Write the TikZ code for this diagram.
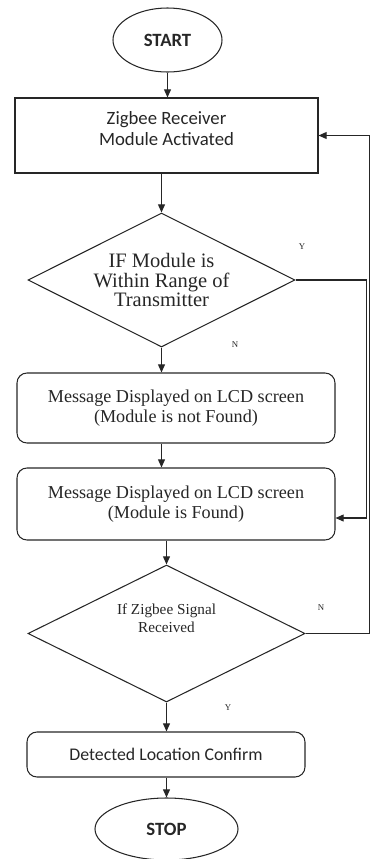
\documentclass[tikz,border=0pt]{standalone}
\usepackage{fontspec}
\setmainfont{Liberation Serif}
\newfontfamily\calibri{Carlito}
\usetikzlibrary{shapes.geometric,arrows.meta}
\begin{document}
\begin{tikzpicture}[x=0.03cm,y=-0.03cm,line width=0.9pt,black!85,
    arr/.style={-{Triangle[length=7pt,width=6pt]}},
    term/.style={draw,ellipse,inner sep=0pt,font=\calibri\bfseries\fontsize{16}{18}\selectfont},
    procbox/.style={draw,rectangle,align=center,inner sep=0pt},
    roundbox/.style={procbox,rounded corners=0.3cm},
    decide/.style={draw,diamond,aspect=2,align=center,inner sep=0pt},
    yn/.style={font=\fontsize{7.5}{9}\selectfont}]
  \useasboundingbox (0,0) rectangle (371,859);
  \node[term,minimum width=3.27cm,minimum height=1.92cm] (start) at (167.5,40) {START};
  \node[procbox,minimum width=9.09cm,minimum height=2.25cm,text depth=0.42cm,
    font=\calibri\fontsize{16}{17.5}\selectfont] (recv) at (166.5,135.5)
    {Zigbee Receiver\\Module Activated};
  \node[decide,minimum width=8.01cm,minimum height=4.02cm,
    font=\fontsize{17.5}{16.3}\selectfont] (dec1) at (161.5,280)
    {IF Module is\\Within Range of\\Transmitter};
  \node[roundbox,minimum width=9.54cm,minimum height=2.1cm,
    font=\fontsize{15.5}{17}\selectfont] (msg1) at (176,408)
    {Message Displayed on LCD screen\\(Module is not Found)};
  \node[roundbox,minimum width=9.54cm,minimum height=2.16cm,
    font=\fontsize{15.5}{17}\selectfont] (msg2) at (176,504)
    {Message Displayed on LCD screen\\(Module is Found)};
  \node[decide,minimum width=8.31cm,minimum height=4.11cm,text depth=0.9cm,
    font=\fontsize{13}{15.5}\selectfont] (dec2) at (166.5,633.5)
    {If Zigbee Signal\\Received};
  \node[roundbox,minimum width=8.34cm,minimum height=1.35cm,
    font=\calibri\fontsize{15.2}{17}\selectfont] (done) at (166,754.5)
    {Detected Location Confirm};
  \node[term,minimum width=4.29cm,minimum height=1.86cm] (stop) at (166.5,829) {STOP};
  \node[yn] (y1) at (302,247) {Y};
  \node[yn] (n1) at (235,345) {N};
  \node[yn] (n2) at (321,608) {N};
  \node[yn] (y2) at (228,708) {Y};
  \draw[arr] (start.south) -- (start.south |- recv.north);
  \draw[arr] (recv.south -| dec1.north) -- (dec1.north);
  \draw[arr] (dec1.south) -- (dec1.south |- msg1.north);
  \draw[arr] (msg1.south -| dec1.south) -- (msg2.north -| dec1.south);
  \draw[arr] (msg2.south -| dec2.north) -- (dec2.north);
  \draw[arr] (dec2.south) -- (dec2.south |- done.north);
  \draw[arr] (done.south -| stop.north) -- (stop.north);
  \draw[arr] (dec1.east) -- ++(71,0) |- ([yshift=-0.42cm]msg2.east);
  \draw[arr] (dec2.east) -- ++(64,0) |- (recv.east);
\end{tikzpicture}
\end{document}
